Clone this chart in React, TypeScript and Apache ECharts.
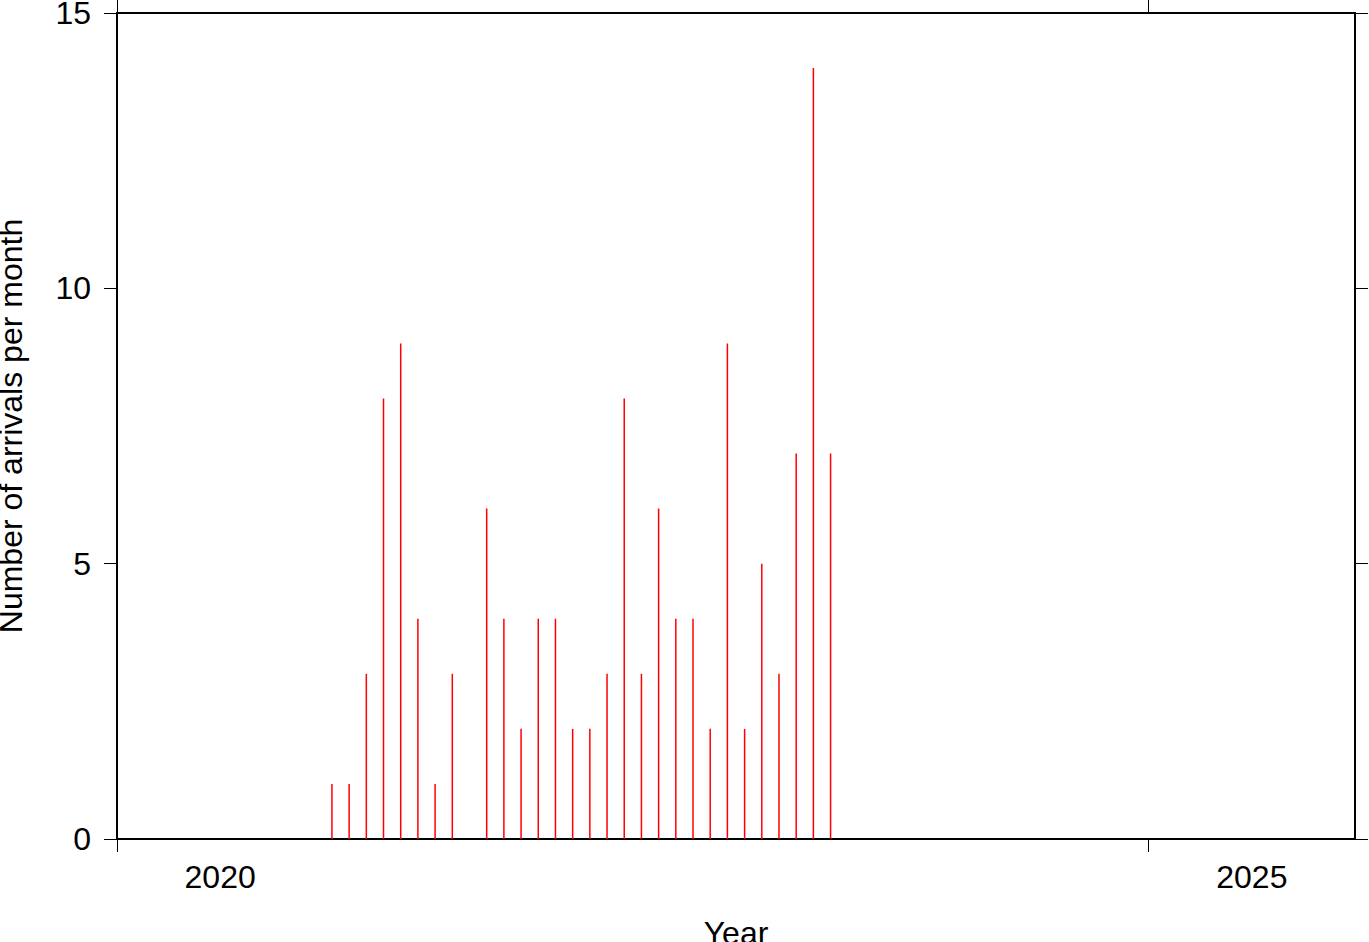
import React, { useEffect, useRef } from "react";
import * as echarts from "echarts";

const months = [
  "2021-01", "2021-02", "2021-03", "2021-04", "2021-05", "2021-06",
  "2021-07", "2021-08", "2021-09", "2021-10", "2021-11", "2021-12",
  "2022-01", "2022-02", "2022-03", "2022-04", "2022-05", "2022-06",
  "2022-07", "2022-08", "2022-09", "2022-10", "2022-11", "2022-12",
  "2023-01", "2023-02", "2023-03", "2023-04", "2023-05", "2023-06",
];
const counts = [1, 1, 3, 8, 9, 4, 1, 3, 0, 6, 4, 2, 4, 4, 2, 2, 3, 8, 3, 6, 4, 4, 2, 9, 2, 5, 3, 7, 14, 7];
const yearTicks = [2020, 2025];
const yTicks = [0, 5, 10, 15];

function toDecimalYear(m: string): number {
  const [y, mo] = m.split("-").map(Number);
  return y + (mo - 0.5) / 12;
}

export default function App() {
  const ref = useRef<HTMLDivElement>(null);
  useEffect(() => {
    if (!ref.current) return;
    const chart = echarts.init(ref.current, null, { renderer: "svg" });
    const font = "Liberation Sans, Arial, Helvetica, sans-serif";
    const data = months.map((m, i) => [toDecimalYear(m), counts[i]]);
    const tickStyle = { color: "#000", width: 1 };
    const xCommon = {
      type: "value" as const,
      min: 2020,
      max: 2026,
      splitLine: { show: false },
      axisLine: { show: false, onZero: false },
    };
    const yCommon = {
      type: "value" as const,
      min: 0,
      max: 15,
      interval: 5,
      splitLine: { show: false },
      axisLine: { show: false, onZero: false },
    };
    chart.setOption({
      animation: false,
      grid: {
        left: 117,
        top: 13,
        right: 14,
        bottom: 103,
        outerBoundsMode: "none",
        containLabel: false,
        show: true,
        borderColor: "#000",
        borderWidth: 2,
        backgroundColor: "transparent",
      },
      xAxis: [
        {
          ...xCommon,
          position: "bottom",
          name: "Year",
          nameLocation: "middle",
          nameGap: 78,
          nameTextStyle: { fontFamily: font, fontSize: 32, color: "#000" },
          axisTick: {
            show: true,
            inside: false,
            length: 13,
            customValues: yearTicks,
            lineStyle: tickStyle,
          },
          axisLabel: {
            show: true,
            customValues: yearTicks.map((y) => y + 0.5),
            formatter: (v: number) => String(Math.floor(v)),
            fontFamily: font,
            fontSize: 32,
            color: "#000",
            margin: 22,
          },
        },
        {
          ...xCommon,
          position: "top",
          axisTick: {
            show: true,
            inside: false,
            length: 13,
            customValues: yearTicks,
            lineStyle: tickStyle,
          },
          axisLabel: { show: false },
        },
      ],
      yAxis: [
        {
          ...yCommon,
          position: "left",
          name: "Number of arrivals per month",
          nameLocation: "middle",
          nameGap: 90,
          nameTextStyle: { fontFamily: font, fontSize: 32, color: "#000" },
          axisTick: {
            show: true,
            inside: false,
            length: 13,
            customValues: yTicks,
            lineStyle: tickStyle,
          },
          axisLabel: {
            show: true,
            fontFamily: font,
            fontSize: 32,
            color: "#000",
            margin: 26,
          },
        },
        {
          ...yCommon,
          position: "right",
          axisTick: {
            show: true,
            inside: false,
            length: 13,
            customValues: yTicks,
            lineStyle: tickStyle,
          },
          axisLabel: { show: false },
        },
      ],
      series: [
        {
          type: "bar",
          xAxisIndex: 0,
          yAxisIndex: 0,
          data,
          barWidth: 1.5,
          itemStyle: { color: "#ff0000" },
        },
      ],
    });
    return () => chart.dispose();
  }, []);
  return (
    <div
      ref={ref}
      style={{ position: "absolute", left: 0, top: 0, width: 1369, height: 942, background: "#fff" }}
    />
  );
}
